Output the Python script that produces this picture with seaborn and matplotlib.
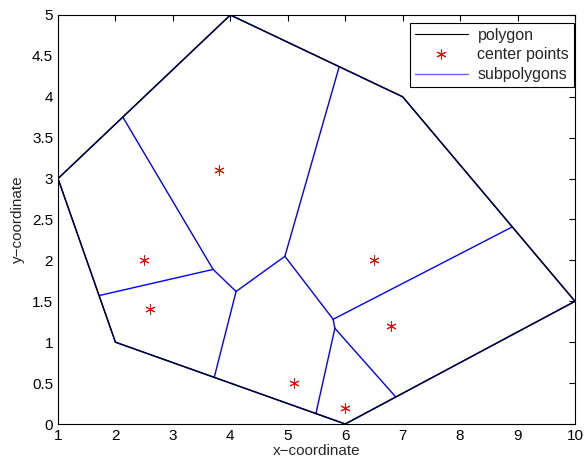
import numpy as np
import pandas as pd
import matplotlib
matplotlib.use("Agg")
import matplotlib.pyplot as plt
import seaborn as sns

sns.set_style("white")
plt.rcParams['font.family'] = ['Liberation Sans', 'DejaVu Sans']

# polygon boundary
poly_x = [1, 2, 6, 10, 7, 4, 1]
poly_y = [3, 1, 0, 1.5, 4, 5, 3]

# center points
cx = [2.5, 2.6, 3.8, 5.1, 6.0, 6.5, 6.8]
cy = [2.0, 1.4, 3.1, 0.5, 0.2, 2.0, 1.2]

# subpolygon interior edges (start x, start y, end x, end y)
seg_x0 = [2.13, 1.715, 3.70, 4.10, 4.10, 4.95, 4.95, 5.79, 5.79, 5.82, 5.82]
seg_y0 = [3.75, 1.57, 1.89, 1.62, 1.62, 2.05, 2.05, 1.28, 1.28, 1.17, 1.17]
seg_x1 = [3.70, 3.70, 4.10, 3.72, 4.95, 5.895, 5.79, 8.91, 5.82, 5.49, 6.88]
seg_y1 = [1.89, 1.89, 1.62, 0.57, 2.05, 4.368, 1.28, 2.41, 1.17, 0.1275, 0.33]

rows = []
for i in range(len(seg_x0)):
    rows.append((i, seg_x0[i], seg_y0[i], 0))
    rows.append((i, seg_x1[i], seg_y1[i], 1))
segs = pd.DataFrame(rows, columns=["seg", "x", "y", "order"])
poly = pd.DataFrame({"x": poly_x, "y": poly_y, "seg": 0})
pts = pd.DataFrame({"x": cx, "y": cy})

fig = plt.figure(figsize=(5.86, 4.68), dpi=100)
ax = fig.add_axes([58/586, 44/468, 517/586, 409/468])

# subpolygon boundaries along polygon (blue under black)
sns.lineplot(data=poly, x="x", y="y", sort=False, estimator=None, units="seg",
             color="blue", lw=1.0, ax=ax, legend=False)
sns.lineplot(data=segs, x="x", y="y", units="seg", estimator=None, sort=False,
             color="blue", lw=1.0, ax=ax, legend=False)
sns.lineplot(data=poly, x="x", y="y", sort=False, estimator=None, units="seg",
             color="#000022", lw=1.0, ax=ax, legend=False)
sns.scatterplot(data=pts, x="x", y="y", marker=(6, 2, 0), s=45, color="red",
                linewidth=0.7, edgecolor="red", ax=ax, legend=False, zorder=5)

ax.set_xlim(1, 10)
ax.set_ylim(0, 5)
ax.set_xticks(range(1, 11))
ax.set_yticks(np.arange(0, 5.01, 0.5))
ax.set_yticklabels(["0", "0.5", "1", "1.5", "2", "2.5", "3", "3.5", "4", "4.5", "5"])
ax.tick_params(direction="in", top=True, right=True, length=4, width=0.8,
               labelsize=11, colors="black")
for s in ax.spines.values():
    s.set_visible(True)
    s.set_color("black")
    s.set_linewidth(0.8)
ax.set_xlabel("x\u2212coordinate", fontsize=11, labelpad=1)
ax.set_ylabel("y\u2212coordinate", fontsize=11, labelpad=5)

from matplotlib.lines import Line2D
handles = [
    Line2D([], [], color="black", lw=0.8),
    Line2D([], [], color="red", marker=(6, 2, 0), ls="none", markersize=7, markeredgewidth=0.7),
    Line2D([], [], color="#6666ff", lw=1.0),
]
leg = ax.legend(handles, ["polygon", "center points", "subpolygons"],
                loc="upper right", bbox_to_anchor=(0.998, 0.981), fontsize=11.5,
                frameon=True, fancybox=False, edgecolor="black", framealpha=1,
                borderpad=0.3, labelspacing=0.3, handlelength=3.3, handletextpad=0.6,
                borderaxespad=0)
leg.get_frame().set_linewidth(0.8)

fig.savefig("out.png", dpi=100)
